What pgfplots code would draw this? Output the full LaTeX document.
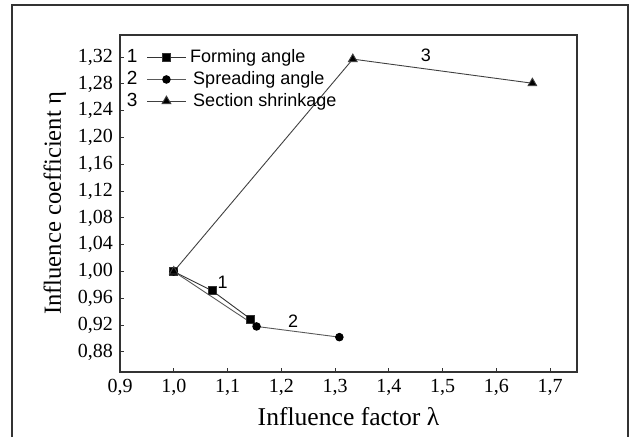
\documentclass[border=0pt]{standalone}
\usepackage{fontspec}
\setmainfont{Liberation Serif}
\newfontfamily\legfont{Liberation Sans}
\usepackage{pgfplots}
\pgfplotsset{compat=1.18}
\usetikzlibrary{calc}

\pgfplotsset{
    legnum/.style={legend image code/.code={
        \node[anchor=east, inner sep=0pt, text=black, font=\legfont\fontsize{9.5}{10}\selectfont] at (0cm,0cm) {#1};
        \draw[mark repeat=2, mark phase=2, ##1] plot coordinates {(0.16cm,0cm)(0.5cm,0cm)(0.84cm,0cm)};}},
}

\begin{document}
\begin{tikzpicture}
\begin{axis}[
    width=228.5pt, height=168.5pt,
    scale only axis,
    xmin=0.9, xmax=1.75,
    ymin=0.85, ymax=1.353,
    xtick={0.9,1.0,...,1.7},
    ytick={0.88,0.92,...,1.33},
    tick align=inside,
    xtick pos=bottom, ytick pos=left,
    major tick length=2.2pt,
    axis line style={line width=0.6pt, black!80},
    tick style={black!80, line width=0.5pt},
    /pgf/number format/assume math mode=true,
    /pgf/number format/use comma,
    /pgf/number format/fixed,
    /pgf/number format/fixed zerofill,
    xticklabel style={/pgf/number format/precision=1, font=\fontsize{10}{11}\selectfont},
    yticklabel style={/pgf/number format/precision=2, font=\fontsize{10}{11}\selectfont},
    xlabel={Influence factor λ},
    ylabel={Influence coefficient η},
    xlabel style={font=\fontsize{12.8}{14}\selectfont, yshift=1pt},
    ylabel style={font=\fontsize{12.3}{14}\selectfont, yshift=-1pt},
    legend style={at={(rel axis cs:0.01,0.975)}, anchor=north west,
        draw=none, fill=none, font=\legfont\fontsize{9}{10}\selectfont,
        row sep=-1.2pt, inner sep=1pt},
    legend cell align=left,
]
\addplot[black!80, line width=0.45pt, mark=square*, mark size=2pt,
    mark options={solid, fill=black}, legnum=1]
    coordinates {(1.0,1.0)(1.072,0.971)(1.143,0.929)};
\addlegendentry{Forming angle}
\addplot[black!65, line width=0.45pt, mark=*, mark size=1.9pt,
    mark options={solid, fill=black, draw=black}, legnum=2]
    coordinates {(1.0,1.0)(1.154,0.918)(1.308,0.902)};
\addlegendentry{\,Spreading angle}
\addplot[black!75, line width=0.45pt, mark=triangle*, mark size=2.5pt,
    mark options={solid, fill=black}, legnum=3]
    coordinates {(1.0,1.0)(1.333,1.317)(1.667,1.281)};
\addlegendentry{\,Section shrinkage}
\node[font=\legfont\fontsize{9}{10}\selectfont] at (axis cs:1.091,0.984) {1};
\node[font=\legfont\fontsize{9}{10}\selectfont] at (axis cs:1.222,0.926) {2};
\node[font=\legfont\fontsize{9}{10}\selectfont] at (axis cs:1.469,1.323) {3};
\end{axis}
\path[use as bounding box] ($(current axis.south west)+(-60pt,-32.5pt)$)
    rectangle ($(current axis.north east)+(27.5pt,17.5pt)$);
\draw[black!80, line width=0.8pt]
    ($(current axis.south west)+(-54pt,-32.5pt)$) --
    ($(current axis.north west)+(-54pt,15pt)$) --
    ($(current axis.north east)+(25.5pt,15pt)$) --
    ($(current axis.south east)+(25.5pt,-32.5pt)$);
\end{tikzpicture}
\end{document}
